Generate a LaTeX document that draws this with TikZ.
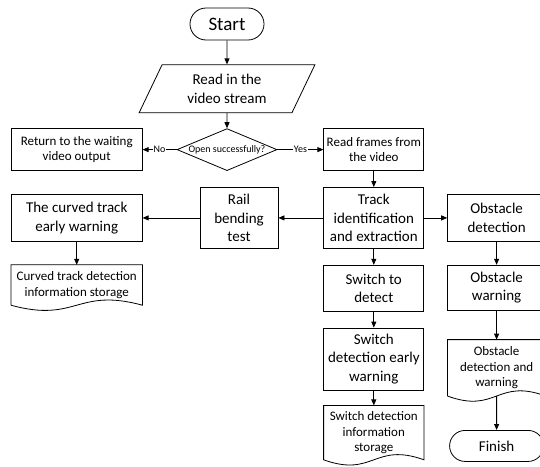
\documentclass[tikz,border=0pt]{standalone}
\usepackage{fontspec}
\setmainfont{Carlito}
\usetikzlibrary{arrows.meta,positioning,shapes.geometric,shapes.misc,calc}

\newcommand{\fbig}{\fontsize{19}{22}\selectfont}
\newcommand{\fmain}{\fontsize{15}{18.5}\selectfont}
\newcommand{\fsmall}{\fontsize{13}{15.5}\selectfont}
\newcommand{\ftiny}{\fontsize{10}{12}\selectfont}

\begin{document}
\begin{tikzpicture}[
  x=1pt, y=1pt,
  every node/.style={font=\fmain, inner sep=2pt},
  box/.style={draw, line width=0.8pt, align=center, minimum width=100pt},
  term/.style={draw, line width=0.8pt, rounded rectangle, minimum height=32pt},
  docbox/.style={align=center, font=\fsmall},
  flow/.style={-{Triangle[length=6pt,width=5pt]}, line width=0.8pt}
]
\useasboundingbox (0,0) rectangle (540,-466);
\clip (0,0) rectangle (540,-466);

% Start and input
\node[term, minimum width=78pt, font=\fbig] (start) at (227,-24) {Start};

\node[
  draw,
  line width=0.8pt,
  trapezium,
  trapezium left angle=66,
  trapezium right angle=114,
  trapezium stretches=true,
  minimum width=176pt,
  minimum height=48pt,
  align=center,
  below=24pt of start
] (read) {Read in the\\video stream};

\node[
  draw,
  line width=0.8pt,
  diamond,
  aspect=2.4,
  minimum width=100pt,
  minimum height=42pt,
  inner sep=0pt,
  font=\ftiny,
  below=15pt of read
] (open) {Open successfully?};

\node[box, minimum width=131pt, minimum height=42pt, font=\fsmall,
  left=34pt of open] (ret) {Return to the waiting\\video output};
\node[box, minimum height=42pt, font=\fsmall,
  right=46pt of open] (frames) {Read frames from\\the video};

% Track branch
\node[box, minimum height=61pt, below=16pt of frames] (track) {Track\\identification\\and extraction};
\node[box, minimum width=78pt, minimum height=61pt, left=45pt of track] (rail) {Rail\\bending\\test};
\node[box, minimum width=131pt, minimum height=47pt, left=57pt of rail] (curved) {The curved track\\early warning};
\node[docbox, minimum width=131pt, minimum height=40pt, below=23pt of curved] (cstore) {Curved track detection\\information storage};

% Switch branch
\node[box, minimum height=46pt, below=16pt of track] (switch) {Switch to\\detect};
\node[box, minimum height=62pt, below=16pt of switch] (swwarn) {Switch\\detection early\\warning};
\node[docbox, minimum width=100pt, minimum height=54pt, below=15pt of swwarn] (swstore) {Switch detection\\information\\storage};

% Obstacle branch
\node[box, minimum width=98pt, minimum height=47pt, right=23pt of track] (obsdet) {Obstacle\\detection};
\node[box, minimum width=98pt, minimum height=45pt, below=23pt of obsdet] (obswarn) {Obstacle\\warning};
\node[docbox, minimum width=98pt, minimum height=56pt, below=29pt of obswarn] (obsstore) {Obstacle\\detection and\\warning};
\node[term, minimum width=98pt, minimum height=31pt, below=34pt of obsstore] (finish) {Finish};

% Document outlines
\foreach \d in {cstore,swstore,obsstore}
  \draw[line width=0.8pt] (\d.south west) -- (\d.north west) -- (\d.north east) -- (\d.south east)
    .. controls ($(\d.south)+(0,18)$) and ($(\d.south)+(0,-18)$) .. (\d.south west);

% Arrows
\draw[flow] (start) -- (read);
\draw[flow] (read) -- (open);
\draw[flow] (open) -- node[fill=white, font=\ftiny, inner sep=1pt] {No} (ret);
\draw[flow] (open) -- node[fill=white, font=\ftiny, inner sep=1pt] {Yes} (frames);
\draw[flow] (frames) -- (track);
\draw[flow] (track) -- (rail);
\draw[flow] (rail) -- (curved);
\draw[flow] (curved) -- (cstore);
\draw[flow] (track) -- (switch);
\draw[flow] (switch) -- (swwarn);
\draw[flow] (swwarn) -- (swstore);
\draw[flow] (track) -- (obsdet);
\draw[flow] (obsdet) -- (obswarn);
\draw[flow] (obswarn) -- (obsstore);
\draw[flow] (obsstore) -- (finish);

\end{tikzpicture}
\end{document}
